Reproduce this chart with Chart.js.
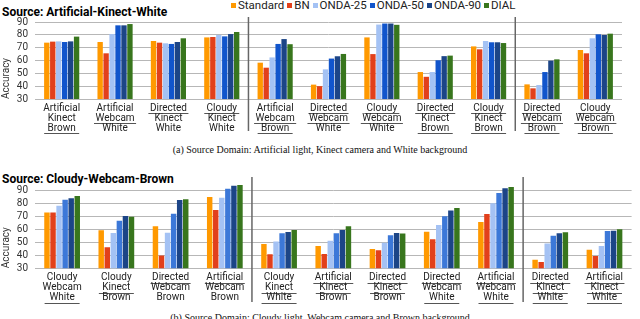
<!DOCTYPE html>
<html>
<head>
<meta charset="utf-8">
<script src="https://cdn.jsdelivr.net/npm/chart.js@4.4.0/dist/chart.umd.min.js"></script>
<style>
  body { margin: 0; background: #fff; width: 640px; height: 319px; overflow: hidden; position: relative; font-family: Roboto, sans-serif; }
  .title { position: absolute; left: 2px; font: bold 12px Roboto; line-height: 14px; color: #000; white-space: nowrap; }
  .legend { position: absolute; left: 228px; top: -1px; font: 11.5px Roboto; line-height: 12px; color: #222; display: flex; align-items: center; white-space: nowrap; }
  .legend i { display: inline-block; width: 5px; height: 5px; margin: 0 2px 0 3px; }
  .caption { position: absolute; left: 0; width: 640px; text-align: center; font: 10px "Liberation Serif", serif; line-height: 12px; color: #111; white-space: nowrap; }
  .wrap { position: absolute; left: 0; width: 640px; height: 140px; }
</style>
</head>
<body>
<div class="title" style="top:5px">Source: Artificial-Kinect-White</div>
<div class="legend" id="legend"></div>
<div class="wrap" style="top:0"><canvas id="topChart"></canvas></div>
<div class="caption" style="top:144px">(a) Source Domain: Artificial light, Kinect camera and White background</div>

<div class="title" style="top:172px">Source: Cloudy-Webcam-Brown</div>
<div class="wrap" style="top:165px"><canvas id="bottomChart"></canvas></div>
<div class="caption" style="top:312px">(b) Source Domain: Cloudy light, Webcam camera and Brown background</div>

<script>
const seriesNames = ["Standard", "BN", "ONDA-25", "ONDA-50", "ONDA-90", "DIAL"];
const topColors = ["#ff9900", "#e2401b", "#a4c2f4", "#1155cc", "#1c4587", "#38761d"];
const bottomColors = ["#ff9900", "#e2401b", "#a4c2f4", "#3c78d8", "#1c4587", "#38761d"];
const yTickValues = [30, 40, 50, 60, 70, 80, 90];

// source: Artificial-Kinect-White
const topCategories = [
  ["Artificial", "Kinect", "Brown"], ["Artificial", "Webcam", "White"], ["Directed", "Kinect", "White"],
  ["Cloudy", "Kinect", "White"], ["Artificial", "Webcam", "Brown"], ["Directed", "Webcam", "White"],
  ["Cloudy", "Webcam", "White"], ["Directed", "Kinect", "Brown"], ["Cloudy", "Kinect", "Brown"],
  ["Directed", "Webcam", "Brown"], ["Cloudy", "Webcam", "Brown"]
];
const topUnderline = [[0,0,1],[0,1,0],[1,0,0],[1,0,0],[0,1,1],[1,1,0],[1,1,0],[1,0,1],[1,0,1],[1,1,1],[1,1,1]];
const topStandard = [73.9, 74.4, 75.2, 78.0, 58.3, 41.2, 78.0, 51.0, 71.0, 41.4, 68.2];
const topBN       = [74.7, 65.6, 73.9, 78.3, 54.4, 40.0, 65.0, 47.3, 68.7, 38.3, 65.6];
const topOnda25   = [74.9, 80.6, 73.4, 79.9, 62.4, 53.1, 88.0, 51.0, 75.2, 40.9, 77.3];
const topOnda50   = [74.4, 87.4, 72.9, 78.8, 72.9, 61.5, 88.8, 60.2, 74.2, 51.0, 80.4];
const topOnda90   = [74.9, 87.4, 74.4, 80.6, 76.7, 63.3, 88.8, 63.4, 74.2, 59.9, 79.9];
const topDial     = [78.6, 88.4, 77.3, 82.2, 72.7, 65.1, 87.8, 63.8, 73.6, 60.9, 80.9];

// source: Cloudy-Webcam-Brown
const bottomCategories = [
  ["Cloudy", "Webcam", "White"], ["Cloudy", "Kinect", "Brown"], ["Directed", "Webcam", "Brown"],
  ["Artificial", "Webcam", "Brown"], ["Cloudy", "Kinect", "White"], ["Artificial", "Kinect", "Brown"],
  ["Directed", "Kinect", "Brown"], ["Directed", "Webcam", "White"], ["Artificial", "Webcam", "White"],
  ["Directed", "Kinect", "White"], ["Artificial", "Kinect", "White"]
];
const bottomUnderline = [[0,0,1],[0,1,0],[1,0,0],[1,0,0],[0,1,1],[1,1,0],[1,1,0],[1,0,1],[1,0,1],[1,1,1],[1,1,1]];
const bottomStandard = [72.7, 59.1, 62.2, 84.6, 48.7, 47.0, 44.8, 58.1, 65.5, 36.6, 44.3];
const bottomBN       = [72.7, 46.1, 39.8, 74.7, 40.8, 41.0, 43.8, 52.2, 71.6, 34.8, 39.4];
const bottomOnda25   = [78.0, 57.1, 57.3, 84.1, 50.5, 51.2, 49.6, 63.2, 79.8, 49.1, 47.0];
const bottomOnda50   = [82.6, 66.5, 71.9, 91.0, 56.8, 56.8, 55.3, 69.9, 87.7, 55.0, 58.5];
const bottomOnda90   = [83.6, 70.1, 82.3, 93.3, 57.9, 59.4, 57.1, 74.4, 91.3, 56.8, 58.8];
const bottomDial     = [85.4, 69.6, 82.9, 93.8, 59.4, 62.2, 56.6, 76.2, 92.3, 57.6, 59.9];

const separatorsAfter = [3, 8];

Chart.defaults.font.family = "Roboto";
Chart.defaults.color = "#333";

// legend (top chart only)
const legend = document.getElementById("legend");
seriesNames.forEach((name, i) => {
  legend.insertAdjacentHTML("beforeend", `<i style="background:${topColors[i]}"></i><span>${name}</span>`);
});

// draws the 3-line category labels with underlines and the group separators
const categoryLabels = {
  id: "catLabels",
  afterDraw(chart, args, opts) {
    const ctx = chart.ctx;
    const x = chart.scales.x;
    const area = chart.chartArea;
    ctx.save();
    ctx.font = "10px Roboto";
    ctx.fillStyle = "#222";
    ctx.textAlign = "center";
    ctx.textBaseline = "middle";
    opts.labels.forEach((lines, i) => {
      const cx = x.getPixelForValue(i);
      lines.forEach((word, j) => {
        const cy = area.bottom + opts.firstLine + j * 10;
        ctx.fillText(word, cx, cy);
        if (opts.underline[i][j]) {
          const w = Math.max(ctx.measureText(word).width + 3, 35);
          ctx.strokeStyle = "#555";
          ctx.lineWidth = 1;
          ctx.beginPath();
          ctx.moveTo(cx - w / 2, Math.round(cy + 5) + 0.5);
          ctx.lineTo(cx + w / 2, Math.round(cy + 5) + 0.5);
          ctx.stroke();
        }
      });
    });
    ctx.strokeStyle = "#666";
    ctx.lineWidth = 1.5;
    separatorsAfter.forEach(k => {
      const sx = (x.getPixelForValue(k) + x.getPixelForValue(k + 1)) / 2;
      ctx.beginPath();
      ctx.moveTo(sx, opts.sepTop);
      ctx.lineTo(sx, opts.sepBottom);
      ctx.stroke();
    });
    ctx.restore();
  }
};

function makeChart(id, categories, underline, values, colors, cfg) {
  return new Chart(document.getElementById(id), {
    type: "bar",
    data: {
      labels: categories.map(c => c.join(" ")),
      datasets: seriesNames.map((name, i) => ({
        label: name,
        data: values[i],
        backgroundColor: colors[i],
        barPercentage: 0.9,
        categoryPercentage: 0.67
      }))
    },
    options: {
      responsive: true,
      maintainAspectRatio: false,
      animation: false,
      layout: { padding: { top: cfg.padTop, right: cfg.padRight, left: 0, bottom: 0 } },
      plugins: {
        legend: { display: false },
        tooltip: { enabled: false },
        catLabels: { labels: categories, underline: underline, firstLine: cfg.firstLine, sepTop: cfg.sepTop, sepBottom: cfg.sepBottom }
      },
      scales: {
        x: {
          grid: { display: false },
          border: { display: false },
          ticks: { display: false },
          afterFit: s => { s.height = cfg.xHeight; }
        },
        y: {
          min: 30,
          max: cfg.yMax,
          afterBuildTicks: s => { s.ticks = yTickValues.map(v => ({ value: v })); },
          afterFit: s => { s.width = 35; },
          grid: { color: "#b7b7b7", lineWidth: 1, drawTicks: false },
          border: { display: false },
          ticks: { padding: 7, autoSkip: false, font: { size: 10 }, color: "#333" },
          title: { display: true, text: "Accuracy", align: "start", font: { size: 10 }, color: "#333", padding: 0 }
        }
      }
    },
    plugins: [categoryLabels]
  });
}

makeChart("topChart", topCategories, topUnderline,
  [topStandard, topBN, topOnda25, topOnda50, topOnda90, topDial], topColors,
  { padTop: 22, padRight: 18, xHeight: 41, yMax: 90, firstLine: 9, sepTop: 17, sepBottom: 131 });

makeChart("bottomChart", bottomCategories, bottomUnderline,
  [bottomStandard, bottomBN, bottomOnda25, bottomOnda50, bottomOnda90, bottomDial], bottomColors,
  { padTop: 18.5, padRight: 8.4, xHeight: 36.7, yMax: 95, firstLine: 9.5, sepTop: 12, sepBottom: 137 });
</script>
</body>
</html>
